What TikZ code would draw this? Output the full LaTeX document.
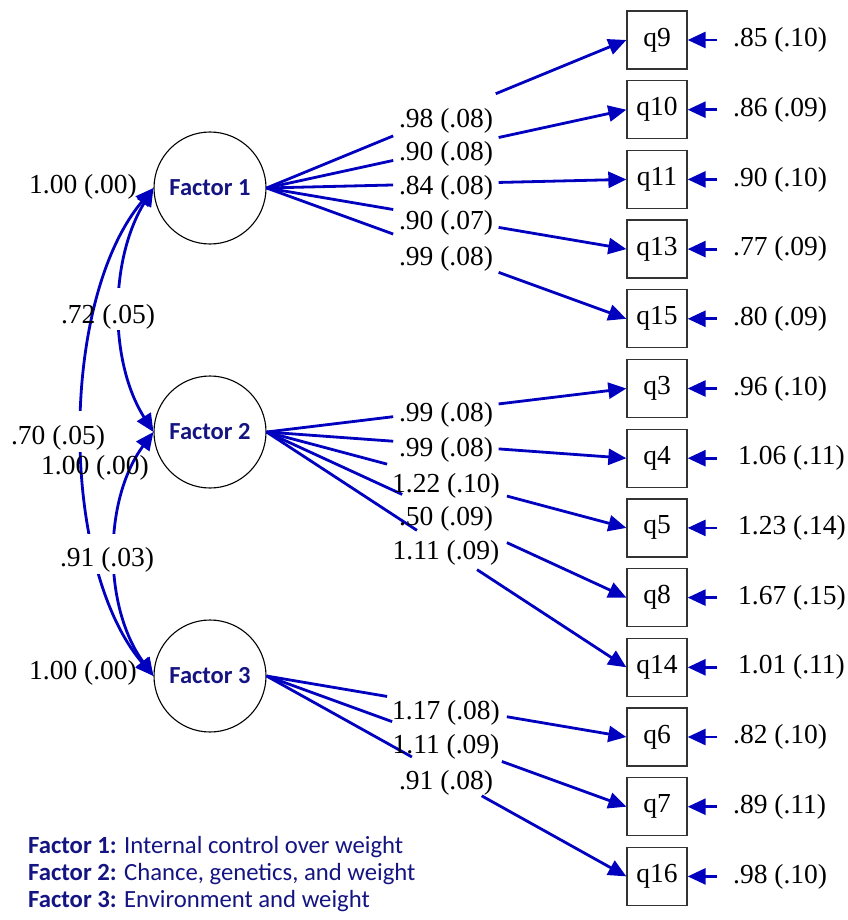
\documentclass[tikz,border=0pt]{standalone}
\usepackage{fontspec}
\setmainfont{Liberation Serif}
\newfontfamily\carlito{Carlito}
\usetikzlibrary{arrows.meta,calc}
\definecolor{lineblue}{RGB}{0,0,190}
\definecolor{navytext}{RGB}{20,20,130}
\begin{document}
\begin{tikzpicture}[x=1pt,y=-1pt,
  factor/.style={circle, draw=black, line width=1.1pt, minimum size=112pt, inner sep=0pt,
    font=\carlito\bfseries\fontsize{24.5pt}{28pt}\selectfont, text=navytext},
  obs/.style={rectangle, draw=black!80, line width=1.3pt, minimum width=60pt, minimum height=58pt,
    inner sep=0pt, font=\fontsize{27.5pt}{30pt}\selectfont},
  num/.style={inner sep=0pt, font=\fontsize{27.5pt}{30pt}\selectfont},
  legend/.style={inner sep=0pt, anchor=base west, text=navytext, font=\carlito\fontsize{24.7pt}{27pt}\selectfont},
  load/.style={draw=lineblue, line width=2.8pt},
  arr/.style={load, -{Triangle[length=18pt,width=16pt]}},
  twoway/.style={load, {Triangle[length=18pt,width=16pt]}-{Triangle[length=18pt,width=16pt]}},
  patch/.style={fill=white, draw=none}]
\useasboundingbox (0,0) rectangle (847,920);

% factors
\node[factor] (F1) at (210,188) {Factor 1};
\node[factor] (F2) at (210,432) {Factor 2};
\node[factor] (F3) at (210,676) {Factor 3};

% observed variables
\node[obs] (q9)  at (657,40)    {q9};
\node[obs] (q10) at (657,109.7) {q10};
\node[obs] (q11) at (657,179.4) {q11};
\node[obs] (q13) at (657,249.1) {q13};
\node[obs] (q15) at (657,318.8) {q15};
\node[obs] (q3)  at (657,388.5) {q3};
\node[obs] (q4)  at (657,458.2) {q4};
\node[obs] (q5)  at (657,527.9) {q5};
\node[obs] (q8)  at (657,597.6) {q8};
\node[obs] (q14) at (657,667.3) {q14};
\node[obs] (q6)  at (657,737)   {q6};
\node[obs] (q7)  at (657,806.7) {q7};
\node[obs] (q16) at (657,876.4) {q16};

% loadings (each broken around the label column)
\foreach \f/\q/\a/\b in {F1/q9/0.352/0.637, F1/q10/0.352/0.645, F1/q11/0.352/0.645, F1/q13/0.352/0.645, F1/q15/0.352/0.645,
  F2/q3/0.352/0.645, F2/q4/0.352/0.645, F2/q5/0.335/0.668, F2/q8/0.377/0.668, F2/q14/0.418/0.585,
  F3/q6/0.335/0.668, F3/q7/0.349/0.654, F3/q16/0.404/0.598}{
  \draw[load] (\f.east) -- ($(\f.east)!\a!(\q.west)$);
  \draw[arr] ($(\f.east)!\b!(\q.west)$) -- (\q.west);
}

% loading labels
\node[num] (l9)  at (446,121) {.98 (.08)};
\node[num] (l10) at (446,154) {.90 (.08)};
\node[num] (l11) at (446,188) {.84 (.08)};
\node[num] (l13) at (446,223) {.90 (.07)};
\node[num] (l15) at (446,259) {.99 (.08)};
\node[num] (l3)  at (446,415) {.99 (.08)};
\node[num] (l4)  at (446,450) {.99 (.08)};
\node[num] (l5)  at (446,486) {1.22 (.10)};
\node[num] (l8)  at (446,519) {.50 (.09)};
\node[num] (l14) at (446,553) {1.11 (.09)};
\node[num] (l6)  at (446,713) {1.17 (.08)};
\node[num] (l7)  at (446,747) {1.11 (.09)};
\node[num] (l16) at (446,783) {.91 (.08)};

% residuals
\foreach \q/\y/\x/\t in {q9/40/733/.85 (.10), q10/109.7/733/.86 (.09), q11/179.4/733/.90 (.10),
  q13/249.1/733/.77 (.09), q15/318.8/733/.80 (.09), q3/388.5/733/.96 (.10),
  q4/458.2/738/1.06 (.11), q5/527.9/738/1.23 (.14), q8/597.6/738/1.67 (.15),
  q14/667.3/738/1.01 (.11), q6/737/733/.82 (.10), q7/806.7/733/.89 (.11), q16/876.4/733/.98 (.10)}{
  \coordinate (r\q) at (717,\y);
  \draw[arr] (r\q) -- (\q.east);
  \node[num, anchor=west] (e\q) at (\x,\y) {\t};
}

% covariances
\draw[twoway] (F1.west) .. controls (109,260) and (109,362) .. (F2.west);
\draw[twoway] (F1.west) .. controls (59,300) and (59,565) .. (F3.west);
\draw[twoway] (F2.west) .. controls (103,500) and (103,607) .. (F3.west);

% gaps in the curves round their labels
\fill[patch] (110,288) rectangle (134,330);
\fill[patch] (72,411) rectangle (96,452);
\fill[patch] (86,534) rectangle (128,574);

\node[num] (v1) at (83,187) {1.00 (.00)};
\node[num] (c12) at (108,317) {.72 (.05)};
\node[num] (c13) at (58,438) {.70 (.05)};
\node[num] (v2) at (95,468) {1.00 (.00)};
\node[num] (c23) at (107,560) {.91 (.03)};
\node[num] (v3) at (83,673) {1.00 (.00)};

% legend
\node[legend] (leg1) at (28,853) {\textbf{Factor 1:} Internal control over weight};
\node[legend] (leg2) at (28,880) {\textbf{Factor 2:} Chance, genetics, and weight};
\node[legend] (leg3) at (28,907) {\textbf{Factor 3:} Environment and weight};
\end{tikzpicture}
\end{document}
